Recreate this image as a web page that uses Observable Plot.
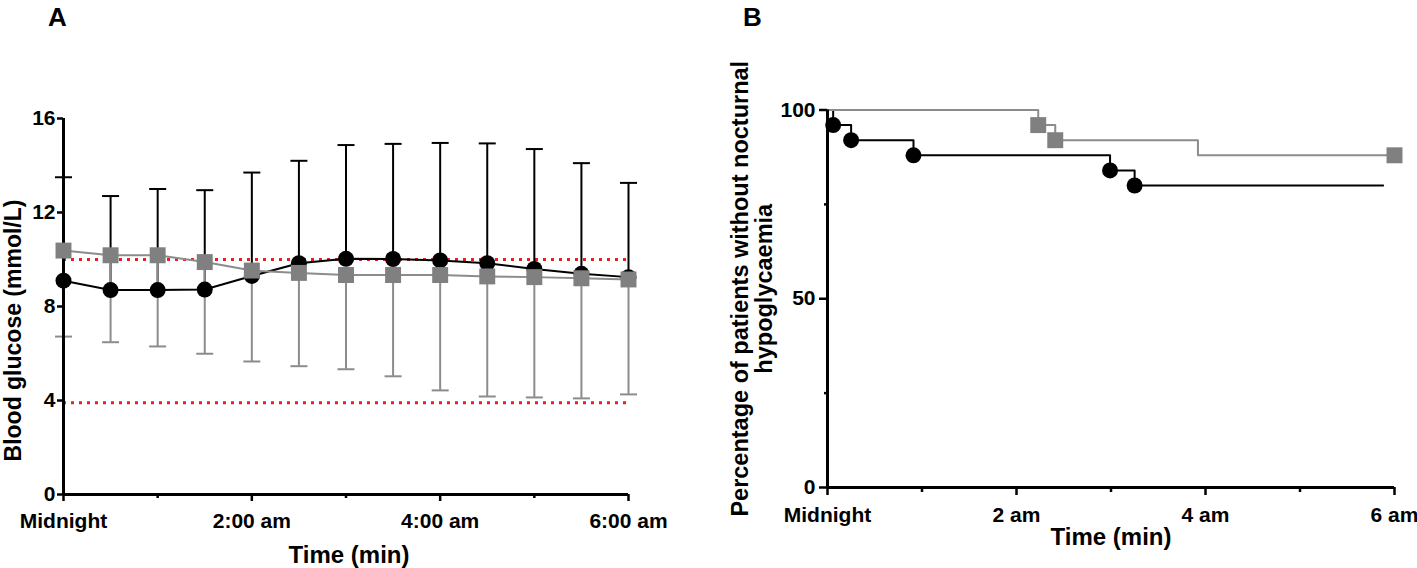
<!DOCTYPE html>
<html>
<head>
<meta charset="utf-8">
<script src="https://cdn.jsdelivr.net/npm/d3@7"></script>
<script src="https://cdn.jsdelivr.net/npm/@observablehq/plot@0.6"></script>
<style>
html, body { margin: 0; padding: 0; background: #fff; }
#wrap { position: relative; width: 1417px; height: 568px; overflow: hidden; background: #fff; }
#panelA { position: absolute; left: 0; top: 0; }
#panelB { position: absolute; left: 700px; top: 0; }
</style>
</head>
<body>
<div id="wrap"><div id="panelA"></div><div id="panelB"></div></div>
<script>
// ---------- Panel A data (blood glucose, mmol/L) ----------
const hoursA = [0, 0.5, 1, 1.5, 2, 2.5, 3, 3.5, 4, 4.5, 5, 5.5, 6];
const blackMean  = [9.1, 8.7, 8.7, 8.72, 9.3, 9.84, 10.03, 10.02, 9.96, 9.84, 9.6, 9.39, 9.25];
const blackUpper = [13.5, 12.7, 13.0, 12.95, 13.7, 14.2, 14.87, 14.92, 14.96, 14.94, 14.7, 14.1, 13.26];
const grayMean   = [10.38, 10.18, 10.18, 9.89, 9.53, 9.43, 9.34, 9.34, 9.34, 9.28, 9.25, 9.2, 9.15];
const grayLower  = [6.72, 6.48, 6.3, 5.99, 5.66, 5.46, 5.33, 5.03, 4.43, 4.17, 4.13, 4.09, 4.26];
const thresholds = [10, 3.9];
const yTicksA = [0, 4, 8, 12, 16];
const xMajorTicksA = [0, 2, 4, 6];
const xMinorTicksA = [1, 3, 5];
const xTickLabelsA = ["Midnight", "2:00 am", "4:00 am", "6:00 am"];

// ---------- Panel B data (Kaplan–Meier, %) ----------
const kmBlackTime = [0, 0.06, 0.25, 0.91, 2.99, 3.25, 5.88];
const kmBlackPct  = [100, 96, 92, 88, 84, 80, 80];
const kmBlackMarkTime = [0.06, 0.25, 0.91, 2.99, 3.25];
const kmBlackMarkPct  = [96, 92, 88, 84, 80];
const kmGrayTime = [0, 2.23, 2.41, 3.92, 6.0];
const kmGrayPct  = [100, 96, 92, 88, 88];
const kmGrayMarkTime = [2.23, 2.41, 6.0];
const kmGrayMarkPct  = [96, 92, 88];
const yMajorTicksB = [0, 50, 100];
const yMinorTicksB = [25, 75];
const xMajorTicksB = [0, 2, 4, 6];
const xMinorTicksB = [1, 3, 5];
const xTickLabelsB = ["Midnight", "2 am", "4 am", "6 am"];

// ---------- shared ----------
const GRAY_LINE = "#8c8c8c";
const GRAY_FILL = "#808080";
const RED = "#ec1c24";
const FONT = "'Liberation Sans', Arial, Helvetica, sans-serif";
const capSymbol = {
  draw(ctx, size) {
    const w = Math.sqrt(size / Math.PI);
    ctx.moveTo(-w, 0);
    ctx.lineTo(w, 0);
  }
};
const baseStyle = {
  fontFamily: FONT, fontSize: "21px", fontWeight: "bold",
  color: "black", background: "white", overflow: "visible"
};

const rowsA = hoursA.map((h, i) => ({
  h, bm: blackMean[i], bu: blackUpper[i], gm: grayMean[i], gl: grayLower[i]
}));

const chartA = Plot.plot({
  width: 700, height: 568,
  marginLeft: 63, marginRight: 72, marginTop: 118, marginBottom: 74,
  style: baseStyle,
  x: {domain: [0, 6]},
  y: {domain: [0, 16]},
  marks: [
    Plot.ruleY(thresholds, {x1: 0, x2: 6, stroke: RED, strokeWidth: 3, strokeDasharray: "3,5"}),
    // black error bars (up)
    Plot.ruleX(rowsA, {x: "h", y1: "bm", y2: "bu", stroke: "black", strokeWidth: 2}),
    Plot.dot(rowsA, {x: "h", y: "bu", symbol: capSymbol, r: 8.5, stroke: "black", strokeWidth: 2, fill: "none"}),
    // gray error bars (down)
    Plot.ruleX(rowsA, {x: "h", y1: "gl", y2: "gm", stroke: GRAY_LINE, strokeWidth: 2}),
    Plot.dot(rowsA, {x: "h", y: "gl", symbol: capSymbol, r: 8.5, stroke: GRAY_LINE, strokeWidth: 2, fill: "none"}),
    // axes lines
    Plot.ruleX([0], {y1: 0, y2: 16, stroke: "black", strokeWidth: 3}),
    Plot.ruleY([0], {x1: 0, x2: 6, stroke: "black", strokeWidth: 3}),
    // black series
    Plot.line(rowsA, {x: "h", y: "bm", stroke: "black", strokeWidth: 2}),
    Plot.dot(rowsA, {x: "h", y: "bm", symbol: "circle", r: 8, fill: "black", stroke: "none"}),
    // gray series
    Plot.line(rowsA, {x: "h", y: "gm", stroke: GRAY_LINE, strokeWidth: 2}),
    Plot.dot(rowsA, {x: "h", y: "gm", symbol: "square", r: 9, fill: GRAY_FILL, stroke: "none"}),
    // axes
    Plot.axisY({ticks: yTicksA, tickSize: 6, tickPadding: 2, strokeWidth: 2.5, label: null, fontSize: 21}),
    Plot.axisX({ticks: xMajorTicksA, tickSize: 7, tickPadding: 12, strokeWidth: 2.5, label: null, fontSize: 21,
      tickFormat: d => xTickLabelsA[xMajorTicksA.indexOf(d)]}),
    Plot.axisX({ticks: xMinorTicksA, tickSize: 4, strokeWidth: 2.5, label: null, tickFormat: () => ""}),
    // titles
    Plot.text(["A"], {frameAnchor: "top-left", dx: -6, dy: -101, fontSize: 26, textAnchor: "middle", lineAnchor: "middle"}),
    Plot.text(["Time (min)"], {frameAnchor: "bottom", dx: 3, dy: 61, fontSize: 24, textAnchor: "middle", lineAnchor: "middle"}),
    Plot.text(["Blood glucose (mmol/L)"], {frameAnchor: "left", rotate: -90, dx: -50, dy: 24, fontSize: 23, textAnchor: "middle", lineAnchor: "middle"})
  ]
});
document.getElementById("panelA").appendChild(chartA);

const kmBlack = kmBlackTime.map((t, i) => ({t, p: kmBlackPct[i]}));
const kmGray = kmGrayTime.map((t, i) => ({t, p: kmGrayPct[i]}));
const kmBlackMarks = kmBlackMarkTime.map((t, i) => ({t, p: kmBlackMarkPct[i]}));
const kmGrayMarks = kmGrayMarkTime.map((t, i) => ({t, p: kmGrayMarkPct[i]}));

const chartB = Plot.plot({
  width: 717, height: 568,
  marginLeft: 127, marginRight: 23, marginTop: 109.5, marginBottom: 81,
  style: baseStyle,
  x: {domain: [0, 6]},
  y: {domain: [0, 100]},
  marks: [
    Plot.line(kmBlack, {x: "t", y: "p", curve: "step-after", stroke: "black", strokeWidth: 2}),
    Plot.line(kmGray, {x: "t", y: "p", curve: "step-after", stroke: GRAY_LINE, strokeWidth: 2}),
    Plot.ruleX([0], {y1: 0, y2: 100, stroke: "black", strokeWidth: 3}),
    Plot.ruleY([0], {x1: 0, x2: 6, stroke: "black", strokeWidth: 3}),
    Plot.dot(kmBlackMarks, {x: "t", y: "p", symbol: "circle", r: 8, fill: "black", stroke: "none"}),
    Plot.dot(kmGrayMarks, {x: "t", y: "p", symbol: "square", r: 9, fill: GRAY_FILL, stroke: "none"}),
    Plot.axisY({ticks: yMajorTicksB, tickSize: 8, tickPadding: 4, strokeWidth: 2.5, label: null, fontSize: 21}),
    Plot.axisY({ticks: yMinorTicksB, tickSize: 3, strokeWidth: 2.5, label: null, tickFormat: () => ""}),
    Plot.axisX({ticks: xMajorTicksB, tickSize: 8, tickPadding: 12, strokeWidth: 2.5, label: null, fontSize: 21,
      tickFormat: d => xTickLabelsB[xMajorTicksB.indexOf(d)]}),
    Plot.axisX({ticks: xMinorTicksB, tickSize: 5, strokeWidth: 2.5, label: null, tickFormat: () => ""}),
    Plot.text(["B"], {frameAnchor: "top-left", dx: -75, dy: -92.5, fontSize: 26, textAnchor: "middle", lineAnchor: "middle"}),
    Plot.text(["Time (min)"], {frameAnchor: "bottom", dy: 50, fontSize: 24, textAnchor: "middle", lineAnchor: "middle"}),
    Plot.text(["Percentage of patients without nocturnal\nhypoglycaemia"], {frameAnchor: "left", rotate: -90, dx: -75, dy: -10, fontSize: 23.5, lineHeight: 1, textAnchor: "middle", lineAnchor: "middle"})
  ]
});
document.getElementById("panelB").appendChild(chartB);
</script>
</body>
</html>
